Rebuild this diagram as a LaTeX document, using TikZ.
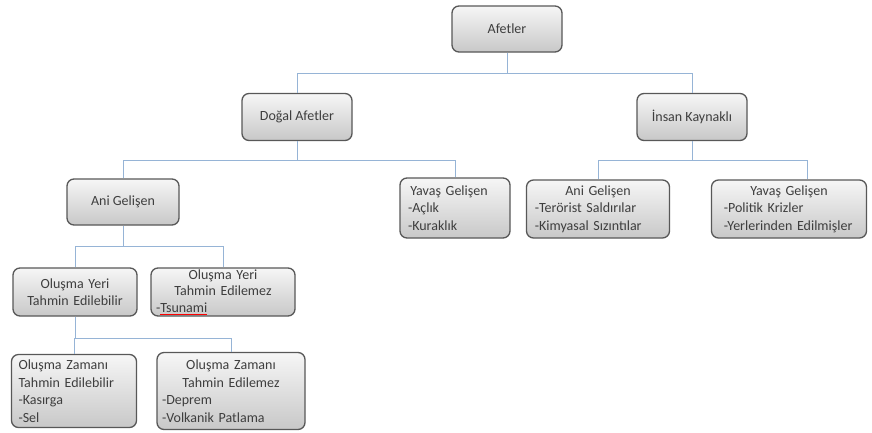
\documentclass[tikz,border=0pt]{standalone}
\usepackage{xcolor}
\usepackage{fontspec}
\setmainfont{Carlito}
\usepackage{tikz}
\usetikzlibrary{positioning}
\definecolor{kenargri}{RGB}{88,88,88}
\definecolor{ustgri}{RGB}{246,246,246}
\definecolor{altgri}{RGB}{200,200,200}
\definecolor{yazigri}{RGB}{62,62,62}
\definecolor{hatmavi}{RGB}{150,180,214}
\tikzstyle{kutu}=[rectangle,rounded corners=7pt,draw=kenargri,line width=1.3pt,
                  top color=ustgri,bottom color=altgri,text=yazigri,
                  font=\fontsize{14}{17.5}\selectfont]
\tikzstyle{hat}=[draw=hatmavi,line width=1pt]
\newcommand{\solsatir}[1]{\makebox[\linewidth][l]{#1}}
\newcommand{\imlaalti}[1]{\setbox0\hbox{#1}\rlap{\textcolor{red}{\rule[-0.4ex]{\wd0}{0.7pt}}}#1}

\begin{document}
\begin{tikzpicture}[x=1pt,y=-1pt]
  \useasboundingbox[fill=white] (0,0) rectangle (872,432);
  % ust seviye
  \node[kutu,minimum width=110pt,minimum height=46pt] (afetler) at (507,29) {Afetler};
  \node[kutu,minimum width=110pt,minimum height=47pt] (dogal) at (297,117) {Doğal Afetler};
  \node[kutu,minimum width=110pt,minimum height=47pt] (insan) at (692,117) {İnsan Kaynaklı};
  % ikinci seviye
  \node[kutu,text width=94pt,inner xsep=8pt,inner ysep=2pt,align=left,minimum height=60pt] (yavas1) at (455,208)
       {\,Yavaş Gelişen\\-Açlık\\-Kuraklık};
  \node[kutu,minimum width=112pt,minimum height=46pt] (ani1) at (123,202) {Ani Gelişen};
  \node[kutu,text width=131pt,inner xsep=6pt,inner ysep=2pt,align=center,minimum height=58pt] (ani2) at (598,209)
       {Ani Gelişen\\\solsatir{\,-Terörist Saldırılar}\\\solsatir{\,-Kimyasal Sızıntılar}};
  \node[kutu,text width=135pt,inner xsep=10pt,inner ysep=2pt,align=center,minimum height=58pt] (yavas2) at (789,209)
       {Yavaş Gelişen\\\solsatir{\,-Politik Krizler}\\\solsatir{\,-Yerlerinden Edilmişler}};
  % ani gelisen alti
  \node[kutu,text width=116pt,inner xsep=4pt,inner ysep=2pt,align=center,minimum height=48pt] (yer1) at (75,292)
       {Oluşma Yeri\\Tahmin Edilebilir};
  \node[kutu,text width=134pt,inner xsep=5pt,inner ysep=0.5pt,align=center,minimum height=48pt,
        font=\fontsize{14}{16.5}\selectfont] (yer2) at (223,292)
       {Oluşma Yeri\\Tahmin Edilemez\\\solsatir{-\imlaalti{Tsunami}}};
  \node[kutu,text width=111pt,inner xsep=7pt,inner ysep=3.5pt,align=left,minimum height=73pt] (zam1) at (74,391)
       {Oluşma Zamanı\\Tahmin Edilebilir\\-Kasırga\\-Sel};
  \node[kutu,text width=138pt,inner xsep=5pt,inner ysep=4pt,align=center,minimum height=77pt] (zam2) at (231,391)
       {Oluşma Zamanı\\Tahmin Edilemez\\\solsatir{-Deprem}\\\solsatir{-Volkanik Patlama}};

  \draw[hat] (afetler.south) -- ++(0,21) -| (dogal.north);
  \draw[hat] (afetler.south) -- ++(0,21) -| (insan.north);
  \draw[hat] (dogal.south) -- ++(0,19) -| (ani1.north);
  \draw[hat] (dogal.south) -- ++(0,19) -| (yavas1.north);
  \draw[hat] (insan.south) -- ++(0,19) -| (ani2.north);
  \draw[hat] (insan.south) -- ++(0,19) -| ([xshift=18pt]yavas2.north);
  \draw[hat] (ani1.south) -- ++(0,21) -| (yer1.north);
  \draw[hat] (ani1.south) -- ++(0,21) -| (yer2.north);
  \draw[hat] (yer1.south) -- ++(0,22) -| (zam1.north);
  \draw[hat] (yer1.south) -- ++(0,22) -| (zam2.north);
\end{tikzpicture}
\end{document}
